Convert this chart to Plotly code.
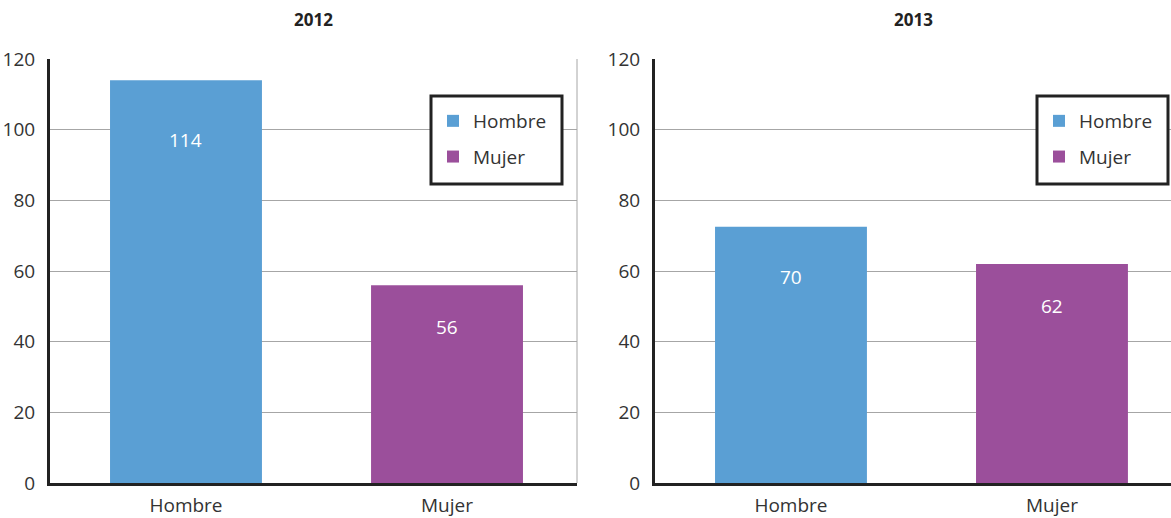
import plotly.graph_objects as go

categories = ["Hombre", "Mujer"]
years = ["2012", "2013"]
values_2012 = [114, 56]
values_2013 = [72.5, 62]          # bar heights as drawn
labels_2012 = ["114", "56"]
labels_2013 = ["70", "62"]        # labels as printed
y_ticks = [0, 20, 40, 60, 80, 100, 120]

colors = {"Hombre": "#5A9FD4", "Mujer": "#9B4F9B"}
FONT = "Open Sans"
TXT = "#333333"
W, H = 1171, 518
T, B = 59, 35
PH = H - T - B


def py(p):
    """pixel row -> paper y"""
    return 1 - (p - T) / PH


fig = go.Figure()

panels = [
    dict(vals=values_2012, labs=labels_2012, xa="x", ya="y", leg="legend",
         shifts=[-60, -42]),
    dict(vals=values_2013, labs=labels_2013, xa="x2", ya="y2", leg="legend2",
         shifts=[-50, -42]),
]

for p in panels:
    for i, cat in enumerate(categories):
        fig.add_trace(go.Bar(
            x=[cat], y=[p["vals"][i]], name=cat,
            marker=dict(color=colors[cat], line=dict(width=0)),
            width=0.582, xaxis=p["xa"], yaxis=p["ya"],
            legend=p["leg"], legendgroup=cat + p["leg"],
            hoverinfo="skip",
        ))
        fig.add_annotation(
            x=cat, y=p["vals"][i], xref=p["xa"], yref=p["ya"],
            text=p["labs"][i], showarrow=False, yanchor="middle",
            yshift=p["shifts"][i],
            font=dict(family=FONT, size=19, color="white"),
        )

axis_common = dict(
    showline=True, linecolor="#222222", linewidth=3, ticks="",
    tickfont=dict(family=FONT, size=19, color=TXT),
    zeroline=False,
)

leg_common = dict(yanchor="top", xanchor="left",
                  borderwidth=0, bgcolor="rgba(0,0,0,0)",
                  font=dict(family=FONT, size=19, color=TXT),
                  tracegroupgap=8, itemclick=False)

fig.update_layout(
    width=W, height=H,
    margin=dict(l=0, r=0, t=T, b=B, autoexpand=False),
    plot_bgcolor="white", paper_bgcolor="white",
    barmode="overlay",
    showlegend=True,
    xaxis=dict(domain=[50 / W, 577 / W], range=[-0.521, 1.498],
               showgrid=False, ticklabelstandoff=3, **axis_common),
    xaxis2=dict(domain=[655 / W, 1.0], range=[-0.521, 1.456],
                showgrid=False, ticklabelstandoff=3, anchor="y2", **axis_common),
    yaxis=dict(range=[0, 120], tickvals=y_ticks, showgrid=True,
               gridcolor="#A6A6A6", gridwidth=1, ticklabelstandoff=8,
               anchor="x", **axis_common),
    yaxis2=dict(range=[0, 120], tickvals=y_ticks, showgrid=True,
                gridcolor="#A6A6A6", gridwidth=1, ticklabelstandoff=8,
                anchor="x2", **axis_common),
    legend=dict(x=433 / W, y=py(102), **leg_common),
    legend2=dict(x=1039 / W, y=py(102), **leg_common),
)

# legend frames
for x0 in (431, 1037):
    fig.add_shape(type="rect", xref="paper", yref="paper",
                  x0=x0 / W, x1=(x0 + 131) / W, y0=py(184), y1=py(96),
                  line=dict(color="#222222", width=3), fillcolor="white",
                  layer="above")

# right border of left panel
fig.add_shape(type="line", xref="x domain", yref="y domain",
              x0=1, x1=1, y0=0, y1=1, line=dict(color="#A6A6A6", width=1))

# titles
for xa, yr in [("x domain", years[0]), ("x2 domain", years[1])]:
    fig.add_annotation(x=0.5, xref=xa, y=1, yref="paper",
                       text="<b>" + yr + "</b>", showarrow=False,
                       yanchor="middle", yshift=T - 19,
                       font=dict(family=FONT, size=17, color="#222222"))

fig.write_html("out.html", config={"displayModeBar": False},
               post_script="document.body.style.margin='0';document.body.style.overflow='hidden';")
